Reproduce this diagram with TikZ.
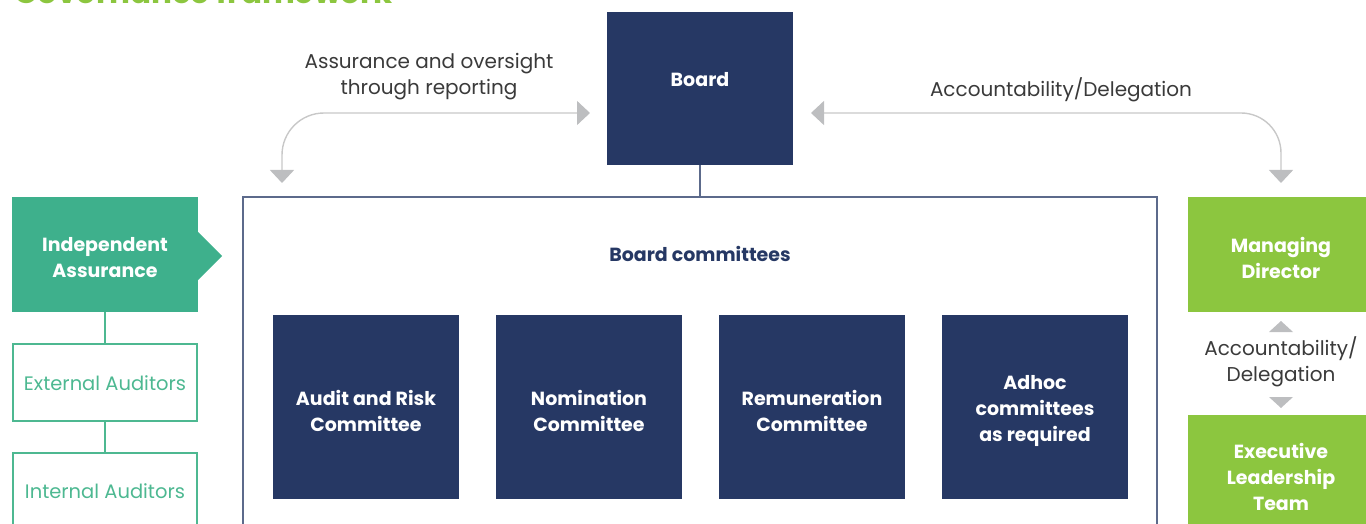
\documentclass[tikz,border=0pt]{standalone}
\usepackage{fontspec}
\setmainfont{Poppins}
\usetikzlibrary{arrows.meta}
\definecolor{navy}{HTML}{263864}
\definecolor{teal}{HTML}{3EB08C}
\definecolor{tealtext}{HTML}{4DB891}
\definecolor{leaf}{HTML}{8CC63F}
\definecolor{linegray}{HTML}{C8C8C8}
\definecolor{headgray}{HTML}{BDBEC0}
\definecolor{inkgray}{HTML}{3A3A3A}
\tikzset{
  base/.style={inner sep=0pt, outer sep=0pt, anchor=north west, align=center},
  navybox/.style={base, fill=navy, text=white, font=\fontsize{19}{26}\selectfont\bfseries,
    minimum width=186pt, minimum height=184pt},
  greenbox/.style={base, fill=leaf, text=white, font=\fontsize{19}{26}\selectfont\bfseries,
    minimum width=186pt, minimum height=115pt},
  outlinebox/.style={base, draw=tealtext, line width=1.3pt, text=tealtext,
    font=\fontsize{19}{26}\selectfont, minimum width=184pt, minimum height=77pt},
  label/.style={inner sep=0pt, align=center, text=inkgray, font=\fontsize{20}{26}\selectfont},
  flow/.style={draw=linegray, line width=1.4pt,
    {Triangle[width=24pt,length=13pt,color=headgray]}-{Triangle[width=24pt,length=13pt,color=headgray]}},
  marker/.style={fill=headgray, draw=none},
  tie/.style={line width=1.4pt}
}
\begin{document}
\begin{tikzpicture}[x=1pt,y=-1pt]
\useasboundingbox (0,0) rectangle (1366,524);
\clip (0,0) rectangle (1366,524);

% heading, mostly above the top edge
\node[inner sep=0pt, anchor=base west, text=leaf, font=\fontsize{31}{36}\selectfont\bfseries]
  (title) at (14,4) {Governance framework};

% board and its committees
\node[navybox, minimum height=153pt] (board) at (607,12) {};
\node[text=white, font=\fontsize{19}{26}\selectfont\bfseries] (boardtxt) at (700,80) {Board};

\node[base, draw=navy!75, line width=1.3pt, minimum width=914pt, minimum height=363pt]
  (committees) at (243,197) {};
\node[text=navy, font=\fontsize{19}{26}\selectfont\bfseries] (comtitle) at (700,254) {Board committees};
\draw[tie, draw=navy!75] (board.south) -- (committees.north);

\node[navybox] (audit) at (273,315) {};
\node[navybox] (nomination) at (496,315) {};
\node[navybox] (remuneration) at (719,315) {};
\node[navybox] (adhoc) at (942,315) {};
\node[text=white, align=center, font=\fontsize{19}{26}\selectfont\bfseries] at (366,411) {Audit and Risk\\Committee};
\node[text=white, align=center, font=\fontsize{19}{26}\selectfont\bfseries] at (589,411) {Nomination\\Committee};
\node[text=white, align=center, font=\fontsize{19}{26}\selectfont\bfseries] at (812,411) {Remuneration\\Committee};
\node[text=white, align=center, font=\fontsize{19}{26}\selectfont\bfseries] at (1035,411) {Adhoc\\committees\\as required};

% independent assurance column
\node[base, fill=teal, minimum width=186pt, minimum height=115pt] (assurance) at (12,197) {};
\fill[teal] (198,232) -- (222,256) -- (198,280) -- cycle;
\node[text=white, align=center, font=\fontsize{19}{26}\selectfont\bfseries] at (105,258) {Independent\\Assurance};
\node[outlinebox] (external) at (13,344) {};
\node[text=tealtext, font=\fontsize{19.5}{26}\selectfont] at (105,383) {External Auditors};
\node[outlinebox] (internal) at (13,453) {};
\node[text=tealtext, font=\fontsize{19.5}{26}\selectfont] at (105,491) {Internal Auditors};
\draw[tie, draw=tealtext] (assurance.south) -- (external.north);
\draw[tie, draw=tealtext] (external.south) -- (internal.north);

% management column
\node[greenbox] (md) at (1188,197) {};
\node[text=white, align=center, font=\fontsize{19}{26}\selectfont\bfseries] at (1281,258) {Managing\\Director};
\node[greenbox, minimum height=125pt] (elt) at (1188,415) {};
\node[text=white, align=center, font=\fontsize{19}{26}\selectfont\bfseries] at (1281,477) {Executive\\Leadership\\Team};
\fill[marker] (1269,332) -- (1281,321) -- (1293,332) -- cycle;
\fill[marker] (1269,397) -- (1281,408) -- (1293,397) -- cycle;
\node[label] (mdlabel) at (1281,362) {Accountability/\\Delegation};

% reporting and delegation flows from the board
\coordinate (leftend) at (282,183);
\coordinate (leftin) at (590,113);
\coordinate (rightin) at (811,113);
\coordinate (rightend) at (1281,183);
\draw[flow, rounded corners=42pt] (leftend) |- (leftin);
\draw[flow, rounded corners=40pt] (rightin) -| (rightend);
\node[label] (reportlabel) at (429,77) {Assurance and oversight\\through reporting};
\node[label] (delegationlabel) at (1061,90) {Accountability/Delegation};
\end{tikzpicture}
\end{document}
